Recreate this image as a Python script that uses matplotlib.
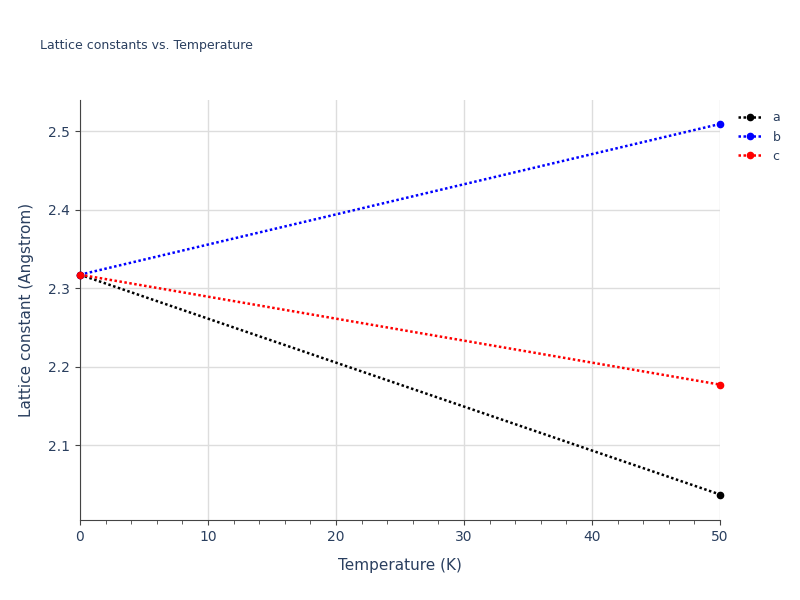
import matplotlib
matplotlib.use("Agg")
import matplotlib.pyplot as plt
from matplotlib.ticker import MultipleLocator

temps = [0, 50]
a_vals = [2.317, 2.037]
b_vals = [2.317, 2.509]
c_vals = [2.317, 2.177]
series = [("a", a_vals, "black"), ("b", b_vals, "blue"), ("c", c_vals, "red")]

fig = plt.figure(figsize=(8, 6), dpi=100)
ax = fig.add_axes([0.1, 0.1333, 0.8, 0.7])
for name, vals, col in series:
    ax.plot(temps, vals, linestyle=(0, (1, 1)), lw=1.8, color=col, marker="o", ms=4.5,
            label=name, clip_on=False, zorder=3)

ax.set_xlim(0, 50)
ax.set_ylim(2.0045, 2.5395)
ax.xaxis.set_major_locator(MultipleLocator(10))
ax.xaxis.set_minor_locator(MultipleLocator(2))
ax.yaxis.set_major_locator(MultipleLocator(0.1))
ax.grid(True, color="#dddddd", lw=1)
ax.set_axisbelow(True)
for s in ["top", "right"]:
    ax.spines[s].set_visible(False)
for s in ["left", "bottom"]:
    ax.spines[s].set_color("#444444")
ax.tick_params(colors="#444444", labelcolor="#2a3f5f", labelsize=10)
ax.tick_params(which="minor", length=3, color="#444444")
ax.set_xlabel("Temperature (K)", color="#2a3f5f", fontsize=11, labelpad=10)
ax.set_ylabel("Lattice constant (Angstrom)", color="#2a3f5f", fontsize=11, labelpad=10)
fig.text(0.05, 0.918, "Lattice constants vs. Temperature", color="#2a3f5f", fontsize=9)
leg = ax.legend(loc="upper left", bbox_to_anchor=(1.01, 1.0), frameon=False, fontsize=9,
                handlelength=2, labelcolor="#2a3f5f")
fig.savefig("out.png")
